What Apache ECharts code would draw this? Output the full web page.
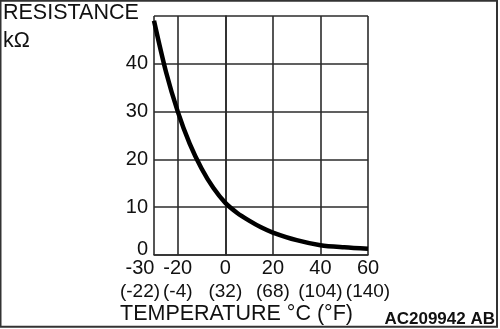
<!DOCTYPE html>
<html>
<head>
<meta charset="utf-8">
<script src="https://cdn.jsdelivr.net/npm/echarts@6/dist/echarts.min.js"></script>
<style>
  html, body { margin: 0; padding: 0; background: #fff; }
  #chart { width: 500px; height: 329px; }
</style>
</head>
<body>
<div id="chart"></div>
<script>
// Thermistor characteristic: resistance (kΩ) against temperature (°C)
const temperatureC = [-30, -25, -20, -15, -10, -5, 0, 5, 10, 15, 20, 30, 40, 50, 60];
const resistanceK  = [49, 38.4, 30, 23.3, 18.1, 14.0, 10.9, 8.8, 7.2, 5.8, 4.7, 3.1, 2.05, 1.6, 1.3];

// Axis tick labels (°C with the °F equivalent underneath)
const ticksC = [-30, -20, 0, 20, 40, 60];
const ticksF = ['(-22)', '(-4)', '(32)', '(68)', '(104)', '(140)'];
const ticksR = [0, 10, 20, 30, 40];

const FONT = '"Liberation Sans", Arial, Helvetica, sans-serif';
const INK = '#111';
const GRID = '#2b2b2b';

const chart = echarts.init(document.getElementById('chart'), null, { renderer: 'canvas' });

const curve = temperatureC.map((t, i) => [t, resistanceK[i]]);

// The lowest tick label sits left of its tick, so it gets its own label-only axis.
const firstTick = ticksC.slice(0, 1);
const otherTicks = ticksC.slice(1);

function tempLabel(v, suffix) {
  const i = ticksC.indexOf(v);
  if (i < 0) return '';
  return '{c' + suffix + '|' + v + '}\n{f' + suffix + '|' + ticksF[i] + '}';
}

const rich = {
  c:  { fontFamily: FONT, fontSize: 20, lineHeight: 23, color: INK },
  f:  { fontFamily: FONT, fontSize: 19, lineHeight: 23, color: INK },
  cs: { fontFamily: FONT, fontSize: 20, lineHeight: 23, color: INK, padding: [0, 28, 0, 0] },
  fs: { fontFamily: FONT, fontSize: 19, lineHeight: 23, color: INK, padding: [0, 28, 0, 0] }
};

chart.setOption({
  animation: false,
  backgroundColor: '#fff',
  grid: { left: 154, top: 16, right: 132, bottom: 74, show: false },
  xAxis: [{
    type: 'value',
    min: -30,
    max: 60,
    position: 'bottom',
    axisLine: { show: true, onZero: false, lineStyle: { color: GRID, width: 1.6 } },
    axisTick: { show: false, customValues: ticksC },
    splitLine: { show: true, lineStyle: { color: GRID, width: 1.6 } },
    axisLabel: {
      customValues: otherTicks,
      showMinLabel: true,
      showMaxLabel: true,
      margin: 2,
      color: INK,
      fontFamily: FONT,
      fontSize: 20,
      lineHeight: 23,
      formatter: function (v) { return tempLabel(v, ''); },
      rich: rich
    }
  }, {
    type: 'value',
    min: -30,
    max: 60,
    position: 'bottom',
    offset: 0,
    axisLine: { show: false, onZero: false },
    axisTick: { show: false, customValues: firstTick },
    splitLine: { show: false },
    axisLabel: {
      customValues: firstTick,
      showMinLabel: true,
      margin: 2,
      color: INK,
      fontFamily: FONT,
      fontSize: 20,
      lineHeight: 23,
      formatter: function (v) { return tempLabel(v, 's'); },
      rich: rich
    }
  }],
  yAxis: {
    type: 'value',
    min: 0,
    max: 50,
    interval: 10,
    axisLine: { show: true, lineStyle: { color: GRID, width: 1.6 } },
    axisTick: { show: false },
    splitLine: { show: true, lineStyle: { color: GRID, width: 1.6 } },
    axisLabel: {
      margin: 6,
      color: INK,
      fontFamily: FONT,
      fontSize: 20,
      formatter: function (v) {
        if (ticksR.indexOf(v) < 0) return '';
        return v === 0 ? '{z|0}' : String(v);
      },
      rich: {
        z: { fontFamily: FONT, fontSize: 20, color: INK, padding: [0, 0, 12, 0] }
      }
    }
  },
  series: [{
    type: 'line',
    data: curve,
    smooth: 0.3,
    symbol: 'none',
    clip: false,
    lineStyle: { color: '#000', width: 4.5, cap: 'butt' }
  }],
  graphic: [
    {
      type: 'rect',
      shape: { x: 0.5, y: 0.8, width: 496.5, height: 326 },
      style: { fill: 'none', stroke: '#333', lineWidth: 2 },
      silent: true
    },
    {
      type: 'text', x: 3, y: 13.5,
      style: { text: 'RESISTANCE', font: '21.5px ' + FONT, fill: INK, verticalAlign: 'middle' }
    },
    {
      type: 'text', x: 3, y: 41,
      style: { text: 'kΩ', font: '21.5px ' + FONT, fill: INK, verticalAlign: 'middle' }
    },
    {
      type: 'text', x: 120, y: 314,
      style: { text: 'TEMPERATURE °C (°F)', font: '21.5px ' + FONT, fill: INK, verticalAlign: 'middle' }
    },
    {
      type: 'text', x: 495, y: 319,
      style: { text: 'AC209942 AB', font: 'bold 17px ' + FONT, fill: INK, align: 'right', verticalAlign: 'middle' }
    }
  ]
});
</script>
</body>
</html>
